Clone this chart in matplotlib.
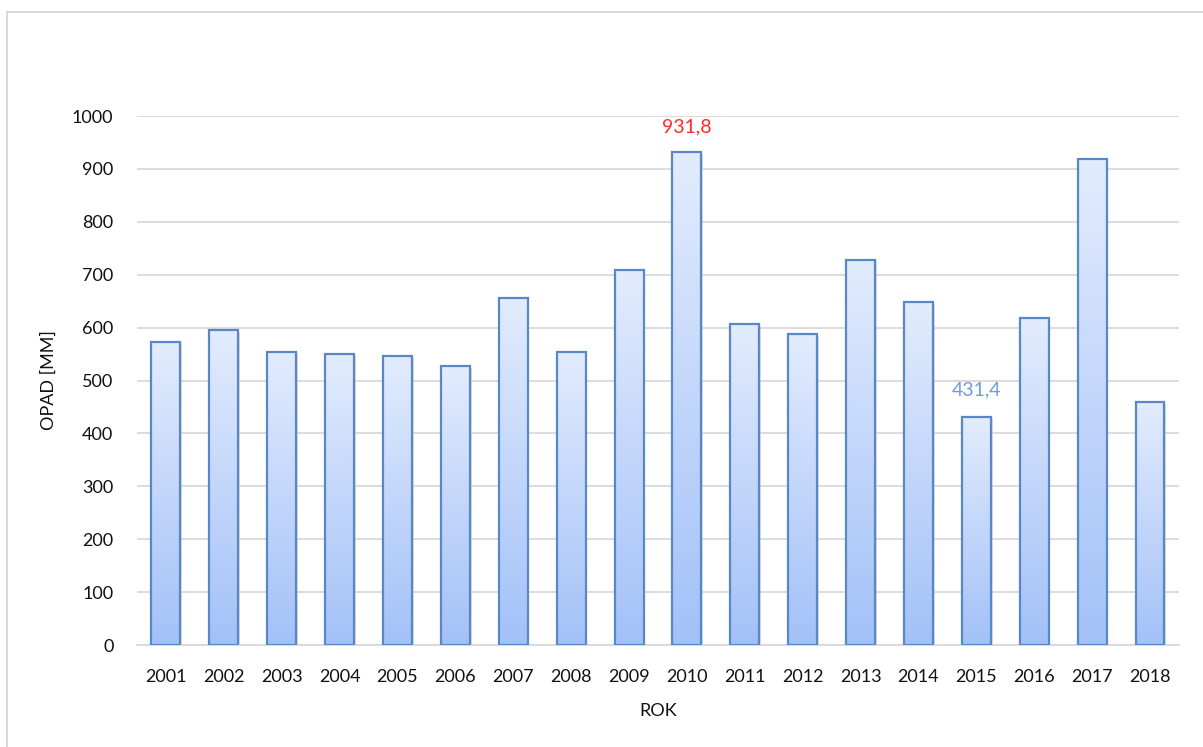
import numpy as np
import matplotlib.pyplot as plt
from matplotlib.colors import LinearSegmentedColormap
from matplotlib.patches import Rectangle
from matplotlib.lines import Line2D

plt.rcParams["font.family"] = ["Lato", "DejaVu Sans"]

years = ["2001", "2002", "2003", "2004", "2005", "2006", "2007", "2008", "2009",
         "2010", "2011", "2012", "2013", "2014", "2015", "2016", "2017", "2018"]
rainfall = [573, 595, 554, 550, 546, 527, 656, 554, 709,
            931.8, 607, 588, 728, 648, 431.4, 618, 919, 459]
max_label = "931,8"
min_label = "431,4"

fig = plt.figure(figsize=(12.03, 7.47), dpi=100)
ax = fig.add_axes([0.1139, 0.1365, 0.8661, 0.7082])

grad = LinearSegmentedColormap.from_list("bar_grad", ["#a3c1f8", "#e2ecfd"])
grad_img = np.linspace(0, 1, 256).reshape(-1, 1)

x = np.arange(len(years))
width = 0.5
for xi, val in zip(x, rainfall):
    # soft shadow behind the bar
    ax.add_patch(Rectangle((xi - width / 2 + 0.03, 0), width, val - 3, facecolor="#c8c8c8",
                           edgecolor="none", alpha=0.6, zorder=1.5))
    # gradient fill, light at the top of each bar
    ax.imshow(grad_img, cmap=grad, aspect="auto", origin="lower",
              extent=[xi - width / 2, xi + width / 2, 0, val], zorder=2)
    ax.add_patch(Rectangle((xi - width / 2, 0), width, val, fill=False,
                           edgecolor="#5a87c5", linewidth=1.6, zorder=3))

ax.set_xlim(-0.5, len(years) - 0.5)
ax.set_ylim(0, 1000)
ax.set_yticks(np.arange(0, 1001, 100))
ax.set_xticks(x)
ax.set_xticklabels(years)
ax.tick_params(length=0, labelsize=13, colors="#111111")
ax.tick_params(axis="x", pad=17)
ax.tick_params(axis="y", pad=17)
ax.grid(axis="y", color="#d9d9d9", linewidth=1.3, zorder=0)
ax.set_axisbelow(True)
for s in ["top", "right", "left"]:
    ax.spines[s].set_visible(False)
ax.spines["bottom"].set_color("#d9d9d9")
ax.spines["bottom"].set_linewidth(1.3)

ax.set_ylabel("OPAD [MM]", fontsize=13, color="#111111", labelpad=11)
ax.set_xlabel("ROK", fontsize=13, color="#111111", labelpad=13)

i_max = int(np.argmax(rainfall))
i_min = int(np.argmin(rainfall))
ax.annotate(max_label, (x[i_max], rainfall[i_max]), xytext=(0, 12), textcoords="offset points",
            ha="center", va="bottom", fontsize=14, color="#ff2a2a")
ax.annotate(min_label, (x[i_min], rainfall[i_min]), xytext=(0, 13), textcoords="offset points",
            ha="center", va="bottom", fontsize=14, color="#6d9ddb")

# chart frame
fig.add_artist(Line2D([7 / 1203, 7 / 1203], [0, 1 - 12 / 747], transform=fig.transFigure,
                      color="#d9d9d9", linewidth=1.5))
fig.add_artist(Line2D([7 / 1203, 1], [1 - 12 / 747, 1 - 12 / 747], transform=fig.transFigure,
                      color="#d9d9d9", linewidth=1.5))

fig.savefig("out.png", dpi=100)
